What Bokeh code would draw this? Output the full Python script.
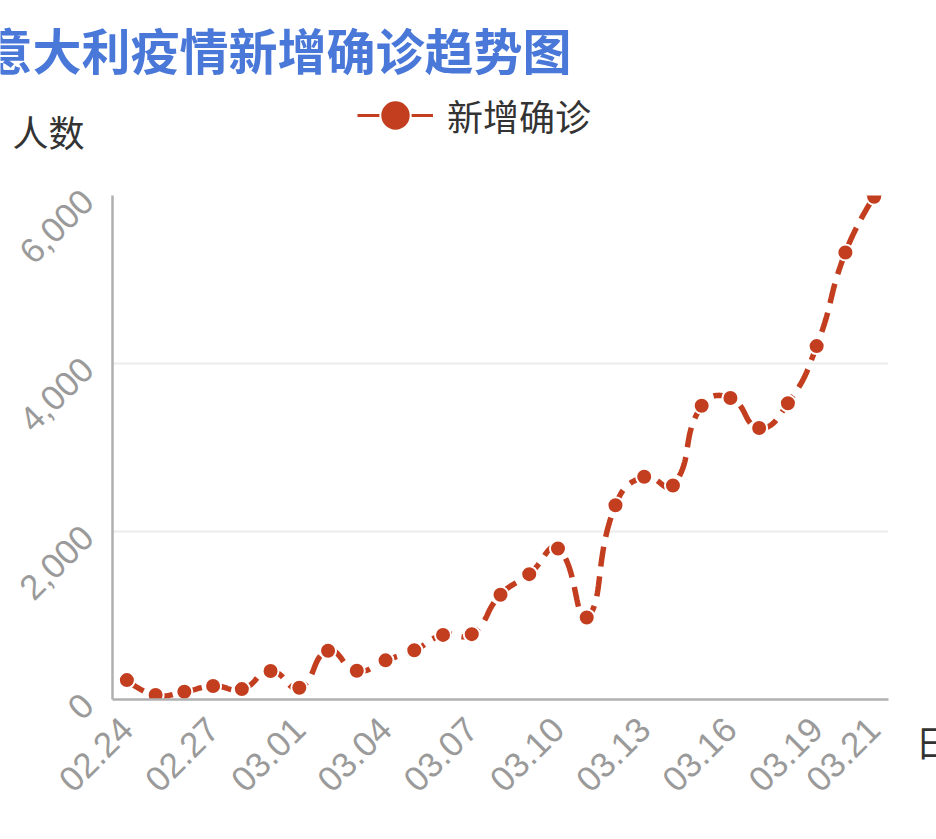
import numpy as np
from bokeh.plotting import figure
from bokeh.layouts import column, row
from bokeh.models import (Range1d, FixedTicker, NumeralTickFormatter, Label, Legend,
                          LegendItem, ColumnDataSource)
from bokeh.embed import file_html
from bokeh.resources import INLINE

# ---------------- data ----------------
title_text = "意大利疫情新增确诊趋势图"
series_name = "新增确诊"
y_name = "人数"
x_name = "日期"
dates = ["02.24", "02.25", "02.26", "02.27", "02.28", "02.29",
         "03.01", "03.02", "03.03", "03.04", "03.05", "03.06", "03.07",
         "03.08", "03.09", "03.10", "03.11", "03.12", "03.13", "03.14",
         "03.15", "03.16", "03.17", "03.18", "03.19", "03.20", "03.21"]
new_cases = [231, 53, 92, 160, 124, 339, 140, 580, 342, 466, 587, 769, 778,
             1247, 1492, 1797, 977, 2313, 2651, 2547, 3497, 3590, 3233, 3526,
             4207, 5322, 5986]
label_idx = [0, 3, 6, 9, 12, 15, 18, 21, 24, 26]
y_ticks = [0, 2000, 4000, 6000]
y_max = 6000

# ---------------- styles ----------------
LINE_COLOR = "#c33d1f"
TITLE_COLOR = "#4a78d9"
AXIS_COLOR = "#b0b0b0"
LABEL_COLOR = "#9a9a9a"
TEXT_COLOR = "#333333"
CJK = "Noto Sans CJK SC"

TOTAL_W, TOTAL_H = 936, 836
TOP_H = 160
MAIN_W = 900
MAIN_H = TOTAL_H - TOP_H
SIDE_W = TOTAL_W - MAIN_W
ML, MR, MT = 112, 12, 195 - TOP_H
MB = MAIN_H - (699 - TOP_H)
frame_w = MAIN_W - ML - MR
frame_h = MAIN_H - MT - MB


def no_align(fig):
    if "frame_align" in fig.properties():
        fig.frame_align = False


# ---------------- top strip: title, y name, legend ----------------
top = figure(width=TOTAL_W, height=TOP_H, output_backend="svg", toolbar_location=None,
             x_range=Range1d(0, TOTAL_W), y_range=Range1d(0, TOP_H),
             x_axis_type=None, y_axis_type=None, min_border=0)
no_align(top)
top.outline_line_color = None
top.grid.visible = False
top.add_layout(Label(x=-17, y=TOP_H - 48, x_units="screen", y_units="screen",
                     text=title_text, text_font=CJK, text_font_size="49px",
                     text_font_style="bold", text_color=TITLE_COLOR,
                     text_baseline="middle", text_align="left"))
top.add_layout(Label(x=12, y=TOP_H - 130, x_units="screen", y_units="screen",
                     text=y_name, text_font=CJK, text_font_size="36px",
                     text_color=TEXT_COLOR, text_baseline="middle", text_align="left"))
# legend handles (one NaN point each, so nothing is drawn in the strip itself)
leg_line = top.line(x=[float("nan")], y=[float("nan")], line_color=LINE_COLOR, line_width=3)
leg_dot = top.scatter(x=[float("nan")], y=[float("nan")], size=32, fill_color=LINE_COLOR,
                      line_color="white", line_width=2)
legend = Legend(items=[LegendItem(label=series_name, renderers=[leg_line, leg_dot])],
                location=(357, TOP_H - 116 - 40), orientation="horizontal",
                glyph_width=76, glyph_height=82, label_standoff=14,
                padding=0, margin=0, spacing=0,
                border_line_color=None, background_fill_alpha=0,
                label_text_font=CJK, label_text_font_size="36px",
                label_text_color=TEXT_COLOR, label_text_baseline="middle")
top.add_layout(legend, "center")

# ---------------- main chart ----------------
n = len(new_cases)
p = figure(width=MAIN_W, height=MAIN_H, output_backend="svg", toolbar_location=None,
           x_range=Range1d(-0.5, n - 0.5), y_range=Range1d(0, y_max),
           min_border_left=ML, min_border_right=MR, min_border_top=MT,
           min_border_bottom=MB)
no_align(p)
p.outline_line_color = None

p.xaxis.ticker = FixedTicker(ticks=label_idx)
p.xaxis.major_label_overrides = {i: dates[i] for i in label_idx}
p.yaxis.ticker = FixedTicker(ticks=y_ticks)
p.yaxis.formatter = NumeralTickFormatter(format="0,0")
for ax in (p.xaxis, p.yaxis):
    ax.axis_line_color = AXIS_COLOR
    ax.axis_line_width = 2.5
    ax.major_tick_line_color = None
    ax.minor_tick_line_color = None
    ax.major_label_text_color = LABEL_COLOR
    ax.major_label_text_font = "Liberation Sans"
    ax.major_label_text_font_size = "35px"
    ax.major_label_orientation = np.pi / 4
p.xaxis.major_label_standoff = 18
p.yaxis.major_label_standoff = 19

p.xgrid.grid_line_color = None
p.ygrid.ticker = FixedTicker(ticks=y_ticks)
p.ygrid.grid_line_color = "#ececec"
p.ygrid.grid_line_width = 2

# smooth curve (ECharts-style smoothing, control points computed in pixel space)
sx = frame_w / n
sy = frame_h / y_max
P = np.column_stack([np.arange(n) * sx, np.array(new_cases, float) * sy])
cin = P.copy()
cout = P.copy()
for i in range(1, n - 1):
    v = (P[i + 1] - P[i - 1]) * 0.5
    d0 = np.linalg.norm(P[i] - P[i - 1])
    d1 = np.linalg.norm(P[i + 1] - P[i])
    s = d0 + d1
    cin[i] = P[i] - v * d0 / s
    cout[i] = P[i] + v * d1 / s
t = np.linspace(0, 1, 30)[:, None]
pts = []
for i in range(n - 1):
    a, b, c, d = P[i], cout[i], cin[i + 1], P[i + 1]
    seg = ((1 - t) ** 3) * a + 3 * ((1 - t) ** 2) * t * b + 3 * (1 - t) * t ** 2 * c + t ** 3 * d
    pts.append(seg if i == 0 else seg[1:])
pts = np.vstack(pts)
curve = ColumnDataSource(dict(x=pts[:, 0] / sx, y=pts[:, 1] / sy))
p.line("x", "y", source=curve, line_color=LINE_COLOR, line_width=5.5,
       line_dash="20 10", line_cap="butt")

src = ColumnDataSource(dict(x=list(range(n)), y=new_cases))
p.scatter("x", "y", source=src, size=16, fill_color=LINE_COLOR,
          line_color="white", line_width=2)

# ---------------- right strip: x axis name ----------------
side = figure(width=SIDE_W, height=MAIN_H, output_backend="svg", toolbar_location=None,
              x_range=Range1d(0, SIDE_W), y_range=Range1d(0, MAIN_H),
              x_axis_type=None, y_axis_type=None, min_border=0)
no_align(side)
side.outline_line_color = None
side.grid.visible = False
side.add_layout(Label(x=915 - MAIN_W, y=MAIN_H - (740 - TOP_H), x_units="screen",
                      y_units="screen", text=x_name, text_font=CJK,
                      text_font_size="36px", text_color=TEXT_COLOR,
                      text_baseline="middle", text_align="left"))

layout = column(top, row(p, side, spacing=0), spacing=0)
open("out.html", "w").write(file_html(layout, INLINE))
